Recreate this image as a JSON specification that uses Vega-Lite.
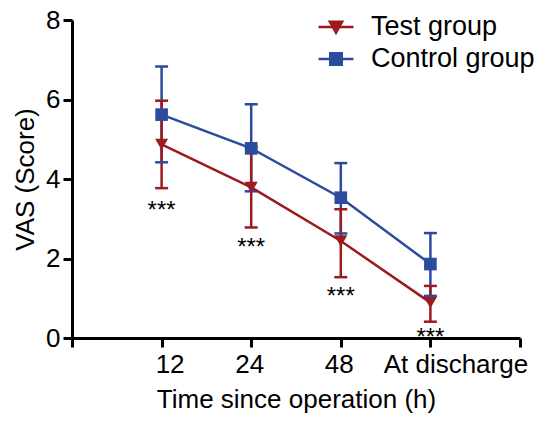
{
  "$schema": "https://vega.github.io/schema/vega-lite/v6.json",
  "autosize": "none",
  "width": 448,
  "height": 318,
  "padding": {"left": 72, "top": 20, "right": 16, "bottom": 83},
  "background": "white",
  "config": {
    "view": {"stroke": null},
    "font": "Liberation Sans",
    "axis": {
      "domainColor": "black", "domainWidth": 3, "tickColor": "black", "tickWidth": 3,
      "labelFont": "Liberation Sans", "labelFontSize": 26, "labelColor": "black",
      "titleFont": "Liberation Sans", "titleFontSize": 26, "titleFontWeight": "normal", "titleColor": "black",
      "grid": false
    }
  },
  "datasets": {
    "stats": [
      {"time": "12", "pos": 1, "group": "Control group", "mean": 5.62, "lo": 4.42, "hi": 6.83},
      {"time": "24", "pos": 2, "group": "Control group", "mean": 4.77, "lo": 3.69, "hi": 5.88},
      {"time": "48", "pos": 3, "group": "Control group", "mean": 3.53, "lo": 2.63, "hi": 4.40},
      {"time": "At discharge", "pos": 4, "group": "Control group", "mean": 1.86, "lo": 1.06, "hi": 2.64},
      {"time": "12", "pos": 1, "group": "Test group", "mean": 4.87, "lo": 3.77, "hi": 5.97},
      {"time": "24", "pos": 2, "group": "Test group", "mean": 3.79, "lo": 2.78, "hi": 4.80},
      {"time": "48", "pos": 3, "group": "Test group", "mean": 2.44, "lo": 1.53, "hi": 3.24},
      {"time": "At discharge", "pos": 4, "group": "Test group", "mean": 0.89, "lo": 0.41, "hi": 1.31}
    ],
    "sig": [
      {"pos": 1, "y": 3.02, "label": "***"},
      {"pos": 2, "y": 2.08, "label": "***"},
      {"pos": 3, "y": 0.85, "label": "***"},
      {"pos": 4, "y": -0.17, "label": "***"}
    ]
  },
  "layer": [
    {
      "data": {"name": "stats"},
      "layer": [
        {
          "mark": {"type": "rule", "strokeWidth": 2.5},
          "encoding": {
            "x": {"field": "pos", "type": "quantitative"},
            "y": {"field": "lo", "type": "quantitative"},
            "y2": {"field": "hi"},
            "color": {"field": "group", "type": "nominal"}
          }
        },
        {
          "mark": {"type": "tick", "orient": "horizontal", "size": 13, "thickness": 2.5, "opacity": 1},
          "encoding": {
            "x": {"field": "pos", "type": "quantitative"},
            "y": {"field": "lo", "type": "quantitative"},
            "color": {"field": "group", "type": "nominal"}
          }
        },
        {
          "mark": {"type": "tick", "orient": "horizontal", "size": 13, "thickness": 2.5, "opacity": 1},
          "encoding": {
            "x": {"field": "pos", "type": "quantitative"},
            "y": {"field": "hi", "type": "quantitative"},
            "color": {"field": "group", "type": "nominal"}
          }
        },
        {
          "mark": {"type": "line", "strokeWidth": 2.5},
          "encoding": {
            "x": {"field": "pos", "type": "quantitative"},
            "y": {"field": "mean", "type": "quantitative"},
            "color": {"field": "group", "type": "nominal"}
          }
        },
        {
          "transform": [{"filter": "datum.group === 'Control group'"}],
          "mark": {"type": "point", "filled": true, "opacity": 1, "size": 160, "shape": "square"},
          "encoding": {
            "x": {"field": "pos", "type": "quantitative"},
            "y": {"field": "mean", "type": "quantitative"},
            "color": {"field": "group", "type": "nominal"}
          }
        },
        {
          "transform": [{"filter": "datum.group === 'Test group'"}],
          "mark": {"type": "point", "filled": true, "opacity": 1, "size": 170, "shape": "triangle-down"},
          "encoding": {
            "x": {
              "field": "pos", "type": "quantitative",
              "scale": {"domain": [0, 5], "nice": false, "zero": false},
              "axis": {
                "values": [0, 1, 2, 3, 4, 5],
                "labelExpr": "datum.value == 1 ? '12' : datum.value == 2 ? '24' : datum.value == 3 ? '48' : datum.value == 4 ? 'At discharge' : ''",
                "tickSize": 9, "labelPadding": 4, "title": "Time since operation (h)", "titlePadding": 9,
                "encoding": {
                  "labels": {
                    "dx": {"value": {"expr": "datum.value == 1 ? 8 : datum.value == 4 ? 25 : -2"}}
                  }
                }
              }
            },
            "y": {
              "field": "mean", "type": "quantitative",
              "scale": {"domain": [0, 8], "nice": false},
              "axis": {"values": [0, 2, 4, 6, 8], "tickSize": 9, "labelPadding": 3, "title": "VAS (Score)", "titlePadding": 7}
            },
            "color": {
              "field": "group", "type": "nominal",
              "scale": {"domain": ["Test group", "Control group"], "range": ["#9b1b1f", "#2b4c9e"]},
              "legend": {
                "title": null, "orient": "none", "legendX": 245, "legendY": -12,
                "symbolSize": 1225, "labelFontSize": 27, "labelFont": "Liberation Sans", "labelColor": "black",
                "labelOffset": 16, "labelLimit": 400, "rowPadding": -6, "padding": 0,
                "encoding": {
                  "symbols": {
                    "shape": {"value": {"expr": "datum.value === 'Test group' ? 'M-1,0H1M-0.35,-0.3H0.35L0,0.32Z' : 'M-1,0H1M-0.33,-0.33H0.33V0.33H-0.33Z'"}},
                    "stroke": {"value": {"expr": "datum.value === 'Test group' ? '#9b1b1f' : '#2b4c9e'"}},
                    "fill": {"value": {"expr": "datum.value === 'Test group' ? '#9b1b1f' : '#2b4c9e'"}},
                    "strokeWidth": {"value": 2.5},
                    "opacity": {"value": 1}
                  }
                }
              }
            }
          }
        }
      ]
    },
    {
      "data": {"name": "sig"},
      "mark": {"type": "text", "fontSize": 24, "color": "black", "baseline": "alphabetic", "align": "center", "font": "Liberation Sans"},
      "encoding": {
        "x": {"field": "pos", "type": "quantitative"},
        "y": {"field": "y", "type": "quantitative"},
        "text": {"field": "label"}
      }
    }
  ]
}
